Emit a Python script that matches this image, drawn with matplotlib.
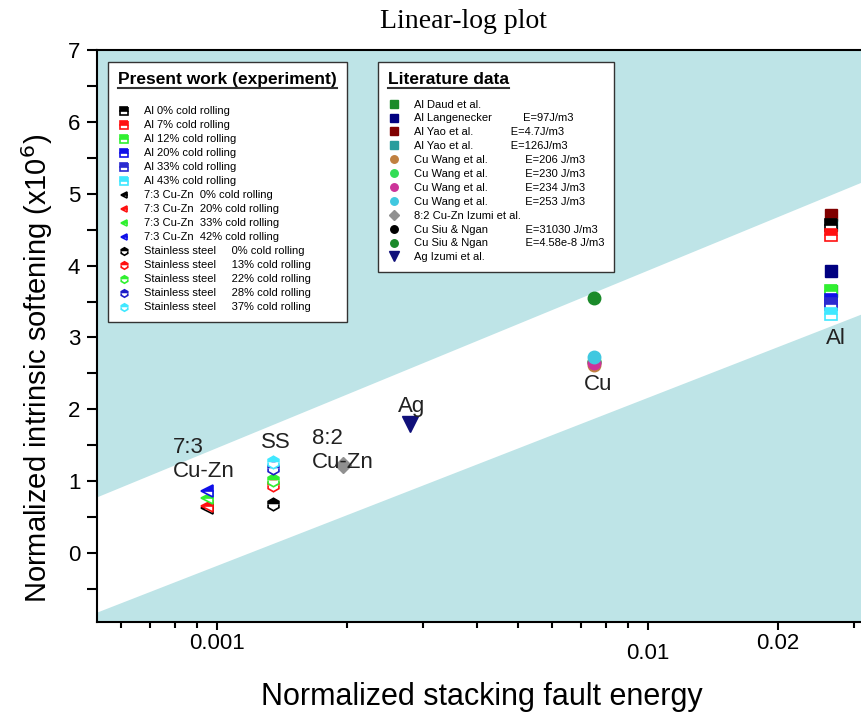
import numpy as np
import matplotlib
matplotlib.use('Agg')
import matplotlib.pyplot as plt
from matplotlib.lines import Line2D
from matplotlib.ticker import FixedLocator, LogLocator, NullFormatter, MultipleLocator

plt.rcParams.update({'font.family': 'Liberation Sans',
                     'axes.linewidth': 1.5,
                     'xtick.direction': 'out',
                     'ytick.direction': 'out',
                     'xtick.major.width': 1.5,
                     'ytick.major.width': 1.5,
                     'xtick.minor.width': 1.5,
                     'ytick.minor.width': 1.5})

# normalized stacking fault energy of each material
x_al = 0.0266
x_cu = 0.0075
x_ag = 0.0028
x_cuzn82 = 0.00196
x_ss = 0.00135
x_cuzn73 = 0.00095

# present work (experiment)
al_labels = ['Al 0% cold rolling', 'Al 7% cold rolling', 'Al 12% cold rolling',
             'Al 20% cold rolling', 'Al 33% cold rolling', 'Al 43% cold rolling']
al_y = [4.57, 4.42, 3.65, 3.52, 3.46, 3.33]
al_colors = ['black', '#ff1010', '#30f030', '#1010e8', '#2a2ad0', '#40e8ff']

cuzn_labels = ['7:3 Cu-Zn  0% cold rolling', '7:3 Cu-Zn  20% cold rolling',
               '7:3 Cu-Zn  33% cold rolling', '7:3 Cu-Zn  42% cold rolling']
cuzn_y = [0.62, 0.66, 0.76, 0.86]
cuzn_colors = ['black', '#ff1010', '#30f030', '#1010e8']

ss_labels = ['Stainless steel     0% cold rolling', 'Stainless steel     13% cold rolling',
             'Stainless steel     22% cold rolling', 'Stainless steel     28% cold rolling',
             'Stainless steel     37% cold rolling']
ss_y = [0.68, 0.95, 1.02, 1.18, 1.27]
ss_colors = ['black', '#ff1010', '#30f030', '#1c1cc8', '#40e8ff']

# literature data
lit_labels = ['Al Daud et al.',
              'Al Langenecker          E=97J/m3',
              'Al Yao et al.            E=4.7J/m3',
              'Al Yao et al.            E=126J/m3',
              'Cu Wang et al.            E=206 J/m3',
              'Cu Wang et al.            E=230 J/m3',
              'Cu Wang et al.            E=234 J/m3',
              'Cu Wang et al.            E=253 J/m3',
              '8:2 Cu-Zn Izumi et al.',
              'Cu Siu & Ngan            E=31030 J/m3',
              'Cu Siu & Ngan            E=4.58e-8 J/m3',
              'Ag Izumi et al.']
lit_x = [x_al, x_al, x_al, x_al, x_cu, x_cu, x_cu, x_cu, x_cuzn82, x_cu, x_cu, x_ag]
lit_y = [3.65, 3.92, 4.70, 4.56, 2.62, 2.67, 2.65, 2.73, 1.23, 2.66, 3.55, 1.80]
lit_colors = ['#1a8a2a', '#000080', '#800000', '#2a9d9d', '#c08040', '#33dd55',
              '#cc3399', '#40c8e0', '#909090', 'black', '#1a8a2a', '#10107a']
lit_markers = ['s', 's', 's', 's', 'o', 'o', 'o', 'o', 'D', 'o', 'o', 'v']

# white band limits: y = a + b*log10(x)
band_upper = (8.88, 2.47)
band_lower = (6.85, 2.34)

# material annotations
ann_text = ['7:3\nCu-Zn', 'SS', '8:2\nCu-Zn', 'Ag', 'Cu', 'Al']
ann_x = [0.00079, 0.00137, 0.00166, 0.00283, 0.00766, 0.0272]
ann_y = [1.30, 1.54, 1.43, 2.04, 2.35, 2.99]
ann_ha = ['left', 'center', 'left', 'center', 'center', 'center']

xmin, xmax = 0.000527, 0.0362
ymin, ymax = -0.96, 7.0

fig = plt.figure(figsize=(8.61, 7.2), dpi=100)
ax = fig.add_axes([97 / 861, 98 / 720, 792 / 861, 572 / 720])
ax.set_xscale('log')
ax.set_xlim(xmin, xmax)
ax.set_ylim(ymin, ymax)
ax.set_facecolor('#bee4e7')

xs = np.geomspace(xmin, xmax, 50)
ax.fill_between(xs, band_lower[0] + band_lower[1] * np.log10(xs),
                band_upper[0] + band_upper[1] * np.log10(xs),
                color='white', lw=0, zorder=0.5)

lit_handles = []
for i in range(len(lit_labels)):
    z = 2.5 if lit_colors[i] == 'black' else 3
    ms = {'v': 11, 'D': 8}.get(lit_markers[i], 9)
    h, = ax.plot(lit_x[i], lit_y[i], ls='none', marker=lit_markers[i],
                 color=lit_colors[i], ms=ms, mec=lit_colors[i],
                 label=lit_labels[i], zorder=z)
    lit_handles.append(h)

pw_handles = []
groups = [(x_al, al_y, al_colors, al_labels, 's', 9),
          (x_cuzn73, cuzn_y, cuzn_colors, cuzn_labels, '<', 8),
          (x_ss, ss_y, ss_colors, ss_labels, 'h', 9)]
for gx, gy, gc, gl, gm, ms in groups:
    for yv, c, lab in zip(gy, gc, gl):
        h, = ax.plot(gx, yv, ls='none', marker=gm, ms=ms, color=c, mec=c, mew=1.2,
                     fillstyle='top', markerfacecoloralt='white', label=lab, zorder=4)
        pw_handles.append(h)

for t, xv, yv, ha in zip(ann_text, ann_x, ann_y, ann_ha):
    ax.text(xv, yv, t, ha=ha, va='center', fontsize=16, color='#222222', linespacing=1.2)

leg_kw = dict(loc='upper left', fontsize=8, handlelength=1.0,
              handletextpad=1.3, borderpad=0.9, borderaxespad=0, markerscale=0.6,
              fancybox=False, framealpha=1, edgecolor='#333333', alignment='left',
              title_fontproperties={'weight': 'bold', 'size': 12.5})
leg1 = ax.legend(handles=pw_handles, title='Present work (experiment)', labelspacing=0.36,
                 bbox_to_anchor=(0.014, 0.979), **leg_kw)
leg1.get_frame().set_linewidth(1.0)
ax.add_artist(leg1)
leg2 = ax.legend(handles=lit_handles, title='Literature data', labelspacing=0.35,
                 bbox_to_anchor=(0.355, 0.979), **leg_kw)
leg2.get_frame().set_linewidth(1.0)
for leg in (leg1, leg2):
    leg.set_zorder(6)
leg1._legend_box.sep = 14
leg2._legend_box.sep = 9

# ticks
ax.xaxis.set_major_locator(FixedLocator([0.001, 0.01, 0.02]))
ax.set_xticklabels(['0.001', '0.01', '0.02'])
ax.xaxis.set_minor_locator(LogLocator(base=10, subs=np.arange(2, 10)))
ax.xaxis.set_minor_formatter(NullFormatter())
ax.yaxis.set_major_locator(MultipleLocator(1))
ax.yaxis.set_minor_locator(MultipleLocator(0.5))
ax.tick_params(axis='both', which='major', labelsize=16)
ax.tick_params(axis='x', which='major', length=6, pad=2)
ax.tick_params(axis='x', which='minor', length=4)
ax.tick_params(axis='y', which='both', length=7, pad=5)
ax.xaxis.get_major_ticks()[1].set_pad(9)
ax.spines['right'].set_visible(False)

fig.text(463 / 861, 1 - 22 / 720, 'Linear-log plot', ha='center', va='center',
         fontsize=20, family='Liberation Serif')
fig.text(482 / 861, 1 - 697 / 720, 'Normalized stacking fault energy', ha='center',
         va='center', fontsize=22)
fig.text(37 / 861, 1 - 368 / 720, 'Normalized intrinsic softening (x10$^6$)', ha='center',
         va='center', rotation=90, fontsize=21)

fig.canvas.draw()
for leg in (leg1, leg2):
    bb = leg.get_title().get_window_extent()
    yline = (bb.y0 - 1) / fig.bbox.height
    fig.add_artist(Line2D([bb.x0 / fig.bbox.width, bb.x1 / fig.bbox.width], [yline, yline],
                          transform=fig.transFigure, color='#333333', lw=1.5, zorder=10))

fig.savefig('out.png', dpi=100)
